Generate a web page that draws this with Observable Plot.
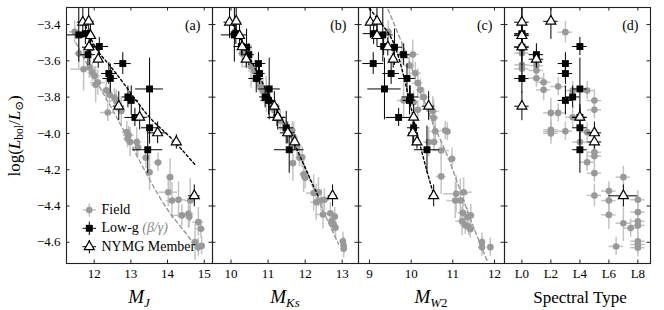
<!DOCTYPE html>
<html><head><meta charset="utf-8">
<script src="https://cdn.jsdelivr.net/npm/d3@7"></script>
<script src="https://cdn.jsdelivr.net/npm/@observablehq/plot@0.6"></script>
<style>
body{margin:0;background:#fff;}
#wrap{position:relative;width:664px;height:310px;overflow:hidden;font-family:"Liberation Serif","DejaVu Serif",serif;color:#000;}
#wrap svg{position:absolute;left:0;top:0;}
.lbl{position:absolute;white-space:nowrap;transform:translate(-50%,-50%);line-height:1;font-family:"Liberation Serif","DejaVu Serif",serif;}
.lbl sub{font-size:0.68em;vertical-align:-0.32em;line-height:0;}
.leg{position:absolute;left:101.5px;font-size:14px;white-space:nowrap;transform:translateY(-50%);line-height:1;font-family:"Liberation Serif","DejaVu Serif",serif;}
</style></head>
<body><div id="wrap"></div>
<script>
// ---------- data ----------
const yTicks = [-3.4, -3.6, -3.8, -4.0, -4.2, -4.4, -4.6];
const xTicksJ = [12, 13, 14, 15];
const xTicksKs = [10, 11, 12, 13];
const xTicksW2 = [9, 10, 11, 12];
const xTicksSpT = [0, 2, 4, 6, 8];
const spTPrefix = "L";
const panelLabels = ["(a)", "(b)", "(c)", "(d)"];
const legendLabels = ["Field", "Low-g", "(β/γ)", "NYMG Member"];

// NYMG members (open triangles)
const nymgLogL    = [-3.387, -3.382, -3.461, -3.523, -3.591, -3.850, -3.911, -3.997, -4.047, -4.344];
const nymgLogLErr = [0.09, 0.10, 0.06, 0.05, 0.05, 0.08, 0.07, 0.06, 0.04, 0.06];
const nymgMJ      = [11.69, 11.85, 11.90, 11.86, 12.11, 12.67, 13.24, 13.73, 14.24, 14.73];
const nymgMJErr   = [0.15, 0.15, 0.10, 0.10, 0.12, 0.15, 0.22, 0.25, 0.12, 0.16];
const nymgMKs     = [9.96, 10.14, 10.23, 10.30, 10.41, 11.17, 11.26, 11.53, 11.72, 12.74];
const nymgMKsErr  = [0.15, 0.12, 0.10, 0.10, 0.10, 0.15, 0.20, 0.20, 0.10, 0.12];
const nymgMW2     = [9.02, 9.18, 9.18, 9.44, 9.57, 10.42, 10.06, 10.04, 10.14, 10.54];
const nymgMW2Err  = [0.10, 0.10, 0.10, 0.10, 0.10, 0.15, 0.10, 0.10, 0.10, 0.10];
const nymgSpT     = [0, 2, 0, 0, 1, 0, 4, 5, 5, 7];
const nymgSpTErr  = [0.5, 0.5, 0.5, 0.5, 0.5, 0.5, 0.5, 0.5, 0.5, 1.0];

// Low-gravity objects (filled squares)
const lowgLogL    = [-3.450, -3.457, -3.521, -3.525, -3.566, -3.615, -3.670, -3.697, -3.755, -3.799, -3.818, -3.912, -3.969, -4.090];
const lowgLogLErr = [0.06, 0.15, 0.05, 0.10, 0.06, 0.06, 0.06, 0.08, 0.17, 0.06, 0.08, 0.05, 0.09, 0.13];
const lowgMJ      = [11.76, 11.58, 12.14, 11.88, 11.83, 12.78, 12.40, 12.44, 13.51, 12.92, 13.01, 13.11, 13.51, 13.46];
const lowgMJErr   = [0.20, 0.35, 0.25, 0.20, 0.20, 0.23, 0.20, 0.20, 0.38, 0.15, 0.20, 0.27, 0.22, 0.41];
const lowgMKs     = [10.13, 10.09, 10.28, 10.42, 10.48, 10.74, 10.77, 10.68, 11.03, 10.92, 11.01, 11.24, 11.49, 11.57];
const lowgMKsErr  = [0.15, 0.35, 0.20, 0.15, 0.15, 0.20, 0.15, 0.20, 0.30, 0.15, 0.20, 0.25, 0.20, 0.40];
const lowgMW2     = [9.10, 9.32, 9.34, 9.60, 9.82, 9.09, 9.52, 9.90, 9.36, 9.98, 9.96, 9.70, 10.06, 10.38];
const lowgMW2Err  = [0.25, 0.25, 0.15, 0.20, 0.15, 0.25, 0.20, 0.20, 0.40, 0.20, 0.15, 0.30, 0.15, 0.30];
const lowgSpT     = [0, 0, 4, 0, 1, 3, 3, 0, 4, 3.5, 3, 4, 4, 4];
const lowgSpTErr  = [0.5, 0.5, 0.5, 0.5, 0.5, 0.5, 0.5, 0.5, 0.5, 0.5, 0.5, 0.5, 0.5, 0.5];

// Field objects: [x, logL, xErr, logLErr]
const fieldMJ = [
  [11.47,-3.44,0.15,0.06],[11.58,-3.56,0.10,0.09],[11.71,-3.646,0.35,0.12],[11.87,-3.637,0.15,0.06],
  [11.95,-3.664,0.12,0.05],[12.01,-3.683,0.15,0.05],[12.10,-3.72,0.20,0.07],[12.04,-3.732,0.12,0.10],
  [12.33,-3.762,0.15,0.06],[12.42,-3.787,0.10,0.05],[12.55,-3.802,0.12,0.05],[12.60,-3.82,0.15,0.06],
  [12.37,-3.885,0.20,0.05],[12.74,-3.876,0.10,0.08],[12.89,-3.993,0.12,0.06],[12.94,-4.01,0.15,0.05],
  [12.91,-4.03,0.10,0.05],[12.98,-4.048,0.10,0.08],[13.16,-4.048,0.15,0.08],[13.19,-4.076,0.12,0.05],
  [13.41,-4.134,0.10,0.06],[13.51,-4.214,0.08,0.10],[13.74,-4.16,0.12,0.05],[14.07,-4.241,0.10,0.10],
  [14.02,-4.324,0.25,0.08],[14.12,-4.37,0.15,0.10],[14.30,-4.366,0.20,0.10],[14.39,-4.452,0.30,0.06],
  [14.57,-4.443,0.15,0.08],[14.59,-4.46,0.10,0.06],[14.62,-4.37,0.15,0.12],[14.84,-4.489,0.15,0.08],
  [14.91,-4.526,0.12,0.05],[14.75,-4.599,0.10,0.10],[14.84,-4.627,0.12,0.05],[14.93,-4.62,0.10,0.05]
];
const fieldMKs = [
  [10.10,-3.44,0.10,0.06],[10.30,-3.56,0.10,0.08],[10.54,-3.631,0.20,0.12],[10.63,-3.657,0.15,0.06],
  [10.72,-3.705,0.12,0.05],[10.79,-3.736,0.10,0.05],[10.86,-3.764,0.12,0.07],[10.95,-3.786,0.10,0.10],
  [11.06,-3.828,0.12,0.05],[11.17,-3.874,0.15,0.05],[11.33,-3.929,0.10,0.06],[11.46,-3.975,0.12,0.05],
  [11.65,-3.984,0.10,0.05],[11.69,-4.021,0.12,0.08],[11.78,-4.076,0.10,0.05],[11.92,-4.131,0.10,0.06],
  [11.85,-4.134,0.10,0.05],[11.67,-4.164,0.08,0.10],[11.96,-4.226,0.10,0.10],[12.00,-4.245,0.10,0.06],
  [12.23,-4.329,0.20,0.10],[12.36,-4.324,0.12,0.08],[12.30,-4.379,0.15,0.10],[12.43,-4.37,0.10,0.06],
  [12.52,-4.366,0.15,0.06],[12.48,-4.447,0.20,0.08],[12.68,-4.44,0.15,0.06],[12.71,-4.484,0.10,0.05],
  [12.77,-4.502,0.12,0.05],[12.82,-4.52,0.10,0.06],[12.80,-4.458,0.10,0.05],[13.02,-4.594,0.08,0.05],
  [13.04,-4.618,0.08,0.05],[13.04,-4.636,0.08,0.05]
];
const fieldMW2 = [
  [9.45,-3.44,0.10,0.06],[9.78,-3.562,0.10,0.06],[10.04,-3.565,0.15,0.08],[9.96,-3.626,0.12,0.06],
  [10.10,-3.668,0.15,0.06],[10.16,-3.723,0.12,0.08],[10.22,-3.76,0.10,0.06],[10.30,-3.80,0.15,0.05],
  [9.82,-3.819,0.15,0.10],[10.16,-3.87,0.12,0.05],[10.06,-3.828,0.10,0.06],[10.52,-3.878,0.15,0.08],
  [10.54,-3.914,0.12,0.10],[10.58,-3.988,0.12,0.06],[10.82,-3.984,0.12,0.05],[10.87,-3.99,0.10,0.05],
  [10.42,-4.048,0.12,0.08],[10.55,-4.048,0.10,0.05],[10.72,-4.094,0.20,0.05],[10.98,-4.14,0.10,0.06],
  [10.72,-4.237,0.12,0.10],[11.08,-4.333,0.30,0.10],[11.26,-4.324,0.20,0.08],[11.06,-4.37,0.20,0.10],
  [11.18,-4.37,0.12,0.12],[11.24,-4.437,0.12,0.06],[11.43,-4.452,0.10,0.06],[11.35,-4.461,0.12,0.05],
  [11.22,-4.484,0.15,0.08],[11.30,-4.507,0.12,0.05],[11.38,-4.513,0.10,0.05],[11.42,-4.528,0.12,0.05],
  [11.70,-4.599,0.08,0.05],[11.70,-4.627,0.08,0.05],[11.90,-4.627,0.08,0.05]
];
const fieldSpT = [
  [3,-3.442,0.5,0.06],[0,-3.558,0.5,0.05],[0,-3.622,0.5,0.06],[0,-3.644,0.5,0.05],
  [1,-3.626,0.5,0.05],[1,-3.653,0.5,0.06],[1,-3.696,0.5,0.05],[1.5,-3.718,0.5,0.05],
  [1.5,-3.760,0.5,0.06],[2.5,-3.742,0.5,0.05],[2,-3.887,0.5,0.08],[2.5,-3.887,0.5,0.05],
  [2,-3.98,0.5,0.05],[2,-3.99,0.5,0.05],[2,-4.0,0.5,0.06],[3,-3.988,0.5,0.05],
  [3.5,-3.911,0.5,0.06],[3.5,-3.764,0.5,0.05],[4.5,-3.764,0.5,0.05],[5,-3.819,0.5,0.06],
  [5,-3.87,0.5,0.05],[4.5,-3.993,0.5,0.05],[4,-4.048,0.5,0.05],[5,-4.104,0.5,0.05],
  [5,-4.125,0.5,0.05],[4.5,-4.159,0.5,0.05],[5,-4.219,0.5,0.05],[5,-4.342,0.5,0.06],
  [6,-4.318,0.5,0.05],[6,-4.37,0.5,0.08],[7,-4.241,0.5,0.06],[6,-4.449,0.5,0.08],
  [7,-4.495,0.5,0.10],[7.5,-4.522,0.5,0.05],[8,-4.366,0.5,0.05],[8,-4.434,0.5,0.05],
  [8,-4.484,0.5,0.05],[8,-4.507,0.5,0.05],[8,-4.594,0.5,0.05],[8,-4.612,0.5,0.05],
  [8,-4.63,0.5,0.05],[6.5,-4.623,0.5,0.05]
];

// Relations: [x, logL]
const fieldFitJ  = [[11.5,-3.50],[12.0,-3.69],[12.5,-3.87],[13.0,-4.06],[13.5,-4.25],[14.0,-4.42],[14.5,-4.55],[14.85,-4.65]];
const youngFitJ  = [[11.72,-3.38],[12.05,-3.53],[12.6,-3.67],[13.42,-3.89],[14.02,-4.01],[14.74,-4.17]];
const fieldFitKs = [[10.2,-3.45],[10.6,-3.63],[11.0,-3.80],[11.5,-3.99],[11.9,-4.14],[12.28,-4.33],[12.9,-4.61]];
const youngFitKs = [[9.98,-3.37],[10.5,-3.58],[11.0,-3.78],[11.5,-3.97],[11.87,-4.13],[12.36,-4.35]];
const fieldFitW2 = [[9.38,-3.28],[10.0,-3.63],[10.5,-3.93],[10.9,-4.14],[11.34,-4.42],[11.82,-4.70]];
const youngFitW2 = [[9.0,-3.31],[9.3,-3.40],[9.62,-3.525],[9.9,-3.76],[10.06,-3.92],[10.30,-4.14],[10.53,-4.33]];

// ---------- drawing ----------
const W = 664, H = 310, MT = 7, MB = 47, FW = 146, FH = H - MT - MB;
const yDomain = [-4.717, -3.306];
const wrap = document.getElementById("wrap");

const rows = (ys, yes, xs, xes) => ys.map((y, i) => ({x: xs[i], y, xe: xes[i], ye: yes[i]}));
const fieldRows = arr => arr.map(([x, y, xe, ye]) => ({x, y, xe, ye}));
const errBars = (data, stroke, sw) => [
  Plot.ruleY(data, {y: "y", x1: d => d.x - d.xe, x2: d => d.x + d.xe, stroke, strokeWidth: sw, clip: true}),
  Plot.ruleX(data, {x: "x", y1: d => d.y - d.ye, y2: d => d.y + d.ye, stroke, strokeWidth: sw, clip: true})
];

function panel({left, domain, ticks, fmt, field, lowg, nymg, fitField, fitYoung, label, yLabels}) {
  const marks = [
    ...errBars(field, "#c3c3c3", 1.5),
    Plot.dot(field, {x: "x", y: "y", r: 3.3, fill: "#999", clip: true}),
  ];
  if (fitField) marks.push(Plot.line(fitField, {x: d => d[0], y: d => d[1], stroke: "#999", strokeWidth: 1.4, strokeDasharray: "4,3", curve: "natural", clip: true}));
  if (fitYoung) marks.push(Plot.line(fitYoung, {x: d => d[0], y: d => d[1], stroke: "#000", strokeWidth: 1.4, strokeDasharray: "2.5,2.5", curve: "natural", clip: true}));
  marks.push(
    ...errBars(lowg, "#000", 1),
    Plot.dot(lowg, {x: "x", y: "y", symbol: "square", r: 3.9, fill: "#000", clip: true}),
    ...errBars(nymg, "#000", 1),
    Plot.dot(nymg, {x: "x", y: "y", symbol: "triangle", r: 3.7, fill: "#fff", stroke: "#000", strokeWidth: 1.2, clip: true}),
    Plot.frame({stroke: "#222", strokeWidth: 1.1}),
    Plot.ruleX(ticks, {x: d => d, insetTop: FH - 3.5, stroke: "#222"}),
    Plot.ruleX(ticks, {x: d => d, insetBottom: FH - 3.5, stroke: "#222"}),
    Plot.ruleY(yTicks, {y: d => d, insetRight: FW - 3.5, stroke: "#222"}),
    Plot.ruleY(yTicks, {y: d => d, insetLeft: FW - 3.5, stroke: "#222"}),
    Plot.axisX(ticks, {anchor: "bottom", tickSize: 0, tickPadding: 5, tickFormat: fmt, fontSize: 13, label: null}),
    Plot.text([label], {frameAnchor: "top-right", text: d => d, dx: -12, dy: 13, lineAnchor: "top", textAnchor: "end", fontSize: 14})
  );
  if (yLabels) marks.push(Plot.axisY(yTicks, {anchor: "left", tickSize: 0, tickPadding: 6, tickFormat: d3.format(".1f"), fontSize: 13, label: null}));
  const svg = Plot.plot({
    width: W, height: H,
    marginLeft: left, marginRight: W - left - FW, marginTop: MT, marginBottom: MB,
    x: {domain, axis: null, label: null},
    y: {domain: yDomain, axis: null, label: null},
    style: {background: "transparent", fontFamily: "'Liberation Serif','DejaVu Serif',serif", color: "#000", overflow: "visible"},
    marks
  });
  wrap.appendChild(svg);
}

panel({left: 66, domain: [11.245, 15.226], ticks: xTicksJ, fmt: d => String(d),
  field: fieldRows(fieldMJ), lowg: rows(lowgLogL, lowgLogLErr, lowgMJ, lowgMJErr), nymg: rows(nymgLogL, nymgLogLErr, nymgMJ, nymgMJErr),
  fitField: fieldFitJ, fitYoung: youngFitJ, label: panelLabels[0], yLabels: true});
panel({left: 212, domain: [9.5, 13.44], ticks: xTicksKs, fmt: d => String(d),
  field: fieldRows(fieldMKs), lowg: rows(lowgLogL, lowgLogLErr, lowgMKs, lowgMKsErr), nymg: rows(nymgLogL, nymgLogLErr, nymgMKs, nymgMKsErr),
  fitField: fieldFitKs, fitYoung: youngFitKs, label: panelLabels[1]});
panel({left: 358, domain: [8.737, 12.24], ticks: xTicksW2, fmt: d => String(d),
  field: fieldRows(fieldMW2), lowg: rows(lowgLogL, lowgLogLErr, lowgMW2, lowgMW2Err), nymg: rows(nymgLogL, nymgLogLErr, nymgMW2, nymgMW2Err),
  fitField: fieldFitW2, fitYoung: youngFitW2, label: panelLabels[2]});
panel({left: 504, domain: [-1.2, 8.87], ticks: xTicksSpT, fmt: d => spTPrefix + d,
  field: fieldRows(fieldSpT), lowg: rows(lowgLogL, lowgLogLErr, lowgSpT, lowgSpTErr), nymg: rows(nymgLogL, nymgLogLErr, nymgSpT, nymgSpTErr),
  fitField: null, fitYoung: null, label: panelLabels[3]});

// ---------- titles ----------
function addLabel(html, x, y, size, rotate) {
  const d = document.createElement("div");
  d.className = "lbl";
  d.innerHTML = html;
  d.style.left = x + "px"; d.style.top = y + "px"; d.style.fontSize = size + "px";
  if (rotate) d.style.transform = "translate(-50%,-50%) rotate(-90deg)";
  wrap.appendChild(d);
}
addLabel('log(<i>L</i><sub>bol</sub>/<i>L</i><sub>⊙</sub>)', 14, 136, 17, true);
addLabel('<i>M</i><sub><i>J</i></sub>', 139, 296, 19);
addLabel('<i>M</i><sub><i>Ks</i></sub>', 285, 296, 19);
addLabel('<i>M</i><sub><i>W</i>2</sub>', 431, 296, 19);
addLabel('Spectral Type', 580, 297, 17);

// ---------- legend ----------
const legSvg = d3.select(wrap).append("svg").attr("width", W).attr("height", H).style("pointer-events", "none");
const legY = [210, 228.3, 246.7];
const lx = 89.3;
[["#c3c3c3", 1.5], ["#000", 1], ["#000", 1]].forEach(([c, w], i) => {
  legSvg.append("line").attr("x1", lx - 6.7).attr("x2", lx + 6.7).attr("y1", legY[i]).attr("y2", legY[i]).attr("stroke", c).attr("stroke-width", w);
  legSvg.append("line").attr("x1", lx).attr("x2", lx).attr("y1", legY[i] - 6.7).attr("y2", legY[i] + 6.7).attr("stroke", c).attr("stroke-width", w);
});
legSvg.append("circle").attr("cx", lx).attr("cy", legY[0]).attr("r", 3.3).attr("fill", "#999");
legSvg.append("path").attr("transform", `translate(${lx},${legY[1]})`).attr("d", d3.symbol(d3.symbolSquare, Math.PI * 3.9 * 3.9)()).attr("fill", "#000");
legSvg.append("path").attr("transform", `translate(${lx},${legY[2]})`).attr("d", d3.symbol(d3.symbolTriangle, Math.PI * 3.7 * 3.7)()).attr("fill", "#fff").attr("stroke", "#000").attr("stroke-width", 1.2);
const legTexts = [legendLabels[0], `${legendLabels[1]} <span style="color:#888;font-style:italic">${legendLabels[2]}</span>`, legendLabels[3]];
legTexts.forEach((t, i) => {
  const d = document.createElement("div");
  d.className = "leg"; d.innerHTML = t; d.style.top = legY[i] + "px";
  wrap.appendChild(d);
});
</script></body></html>
